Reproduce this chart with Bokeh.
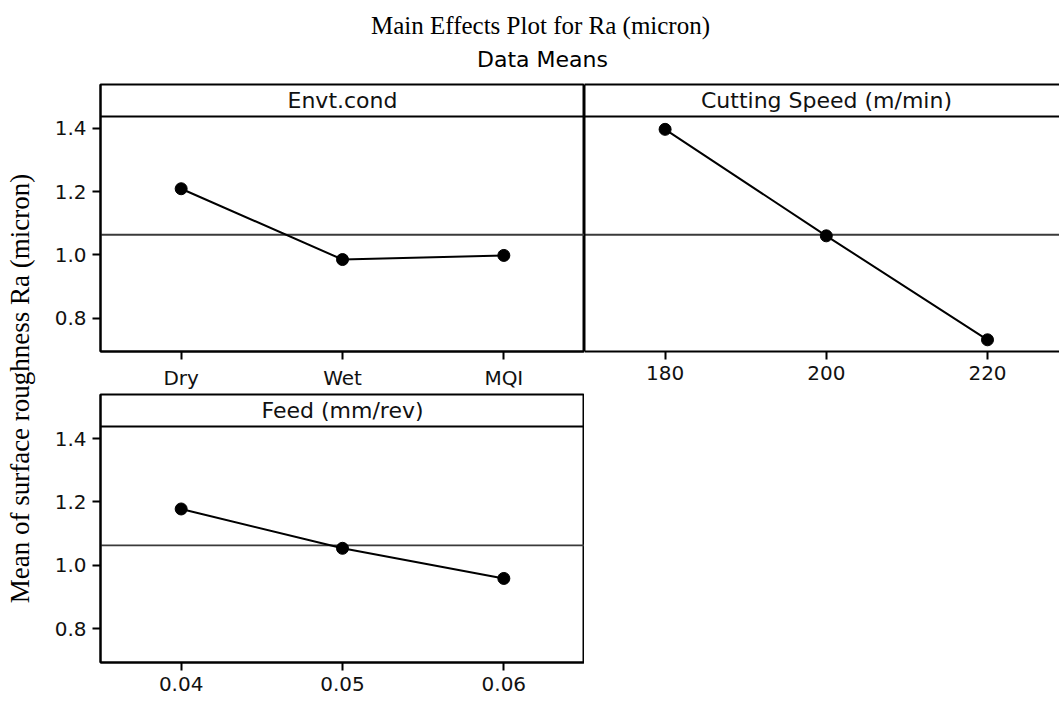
import numpy as np
from bokeh.plotting import figure
from bokeh.models import (Range1d, FactorRange, FixedTicker, NumeralTickFormatter,
                          Span, Label, LinearAxis, ColumnDataSource)
from bokeh.layouts import column, row
from bokeh.embed import file_html
from bokeh.resources import INLINE

# ---- data: mean Ra (micron) at each factor level ----
envt_levels = ["Dry", "Wet", "MQI"]
envt_means = [1.209, 0.985, 0.998]

speed_levels = [180, 200, 220]
speed_means = [1.397, 1.060, 0.731]

feed_levels = ["0.04", "0.05", "0.06"]
feed_means = [1.178, 1.054, 0.959]

y_ticks = [0.8, 1.0, 1.2, 1.4]

title_text = "Main Effects Plot for Ra (micron)"
subtitle_text = "Data Means"
ylabel_text = "Mean of surface roughness Ra (micron)"
panel_titles = ["Envt.cond", "Cutting Speed (m/min)", "Feed (mm/rev)"]

grand_mean = float(np.mean(envt_means + speed_means + feed_means))

# ---- layout constants ----
W = 1059
TITLE_H = 76
YLAB_W = 40
PANEL_W = 544          # left-column figure width (frame 484 px)
FRAME_W = 484
HEADER_PX = 32
PLOT_PX = 236
FRAME_H = HEADER_PX + PLOT_PX
Y_LO, Y_HI = 0.694, 1.438
Y_TOP = Y_HI + HEADER_PX * (Y_HI - Y_LO) / PLOT_PX

TICK_FONT = "DejaVu Sans"
TICK_SIZE = "20px"
INK = "#111111"


def base_fig(x_range, width, height, mb_left, mb_top, mb_bottom):
    p = figure(x_range=x_range, y_range=Range1d(Y_LO, Y_TOP), width=width, height=height,
               output_backend="svg", toolbar_location=None,
               min_border_left=mb_left, min_border_right=0,
               min_border_top=mb_top, min_border_bottom=mb_bottom)
    p.grid.visible = False
    p.background_fill_color = "white"
    p.border_fill_color = "white"
    return p


def style_axis(ax):
    ax.major_tick_out = 8
    ax.major_tick_in = 0
    ax.minor_tick_out = 0
    ax.minor_tick_in = 0
    ax.axis_line_width = 2
    ax.axis_line_color = "black"
    ax.major_tick_line_width = 2
    ax.major_tick_line_color = "black"
    ax.major_label_standoff = 6
    ax.major_label_text_font = TICK_FONT
    ax.major_label_text_font_size = TICK_SIZE
    ax.major_label_text_color = INK


def style_yaxis(ax):
    style_axis(ax)
    ax.ticker = FixedTicker(ticks=y_ticks)
    ax.formatter = NumeralTickFormatter(format="0.0")


def blank_axis(ax):
    ax.ticker = FixedTicker(ticks=[])
    ax.major_tick_out = 0
    ax.major_tick_in = 0
    ax.minor_tick_out = 0
    ax.minor_tick_in = 0
    ax.major_label_text_font_size = "0px"
    ax.axis_line_width = 2
    ax.axis_line_color = "black"


def add_effect(p, levels, means, header):
    src = ColumnDataSource(dict(level=levels, mean=means))
    p.add_layout(Span(location=grand_mean, dimension="width", line_color="#3a3a3a",
                      line_width=1.8, level="underlay"))
    p.add_layout(Span(location=Y_HI, dimension="width", line_color="black", line_width=2))
    p.line(x="level", y="mean", source=src, line_color="black", line_width=2)
    p.scatter(x="level", y="mean", source=src, size=12, color="black")
    p.add_layout(Label(x=FRAME_W / 2, x_units="screen", y=(Y_HI + Y_TOP) / 2,
                       text=header, text_align="center", text_baseline="middle",
                       text_font=TICK_FONT, text_font_size="22px", text_color=INK))


# ---- title strip ----
pt = figure(width=W, height=TITLE_H, output_backend="svg", toolbar_location=None,
            x_axis_location=None, y_axis_location=None, min_border=0)
pt.grid.visible = False
pt.outline_line_color = None
pt.add_layout(Label(x=540, y=TITLE_H - 25, x_units="screen", y_units="screen",
                    text=title_text, text_align="center", text_baseline="alphabetic",
                    text_font="Liberation Serif", text_font_size="25px", text_color="black"))
pt.add_layout(Label(x=542, y=TITLE_H - 59, x_units="screen", y_units="screen",
                    text=subtitle_text, text_align="center", text_baseline="alphabetic",
                    text_font=TICK_FONT, text_font_size="22px", text_color="black"))

# ---- shared y label ----
body_h = 702 - TITLE_H
py = figure(width=YLAB_W, height=body_h, output_backend="svg", toolbar_location=None,
            x_axis_location=None, y_axis_location=None, min_border=0)
py.grid.visible = False
py.outline_line_color = None
py.add_layout(Label(x=19, y=body_h - 312, x_units="screen", y_units="screen",
                    text=ylabel_text, angle=np.pi / 2, text_align="center",
                    text_baseline="middle", text_font="Liberation Serif",
                    text_font_size="27px", text_color="black"))

# ---- panel 1: environment condition ----
top_h = 8 + FRAME_H + 40
p1 = base_fig(FactorRange(*envt_levels), PANEL_W, top_h, 60, 8, 40)
p1.outline_line_color = "black"
p1.outline_line_width = 2
style_axis(p1.xaxis[0])
style_yaxis(p1.yaxis[0])
add_effect(p1, envt_levels, envt_means, panel_titles[0])

# ---- panel 2: cutting speed (right edge runs off the page) ----
p2_w = W - YLAB_W - PANEL_W
p2 = base_fig(Range1d(170, 170 + p2_w / 8.06), p2_w, top_h, 0, 8, 40)
p2.outline_line_color = None
style_axis(p2.xaxis[0])
p2.xaxis[0].ticker = FixedTicker(ticks=speed_levels)
blank_axis(p2.yaxis[0])
top_axis = LinearAxis()
blank_axis(top_axis)
p2.add_layout(top_axis, "above")
add_effect(p2, speed_levels, speed_means, panel_titles[1])

# ---- panel 3: feed ----
p3 = base_fig(FactorRange(*feed_levels), PANEL_W, body_h - top_h, 60, 2, 40)
p3.outline_line_color = "black"
p3.outline_line_width = 2
style_axis(p3.xaxis[0])
style_yaxis(p3.yaxis[0])
add_effect(p3, feed_levels, feed_means, panel_titles[2])

layout = column(pt, row(py, column(row(p1, p2), p3)))

open("out.html", "w").write(file_html(layout, INLINE))
